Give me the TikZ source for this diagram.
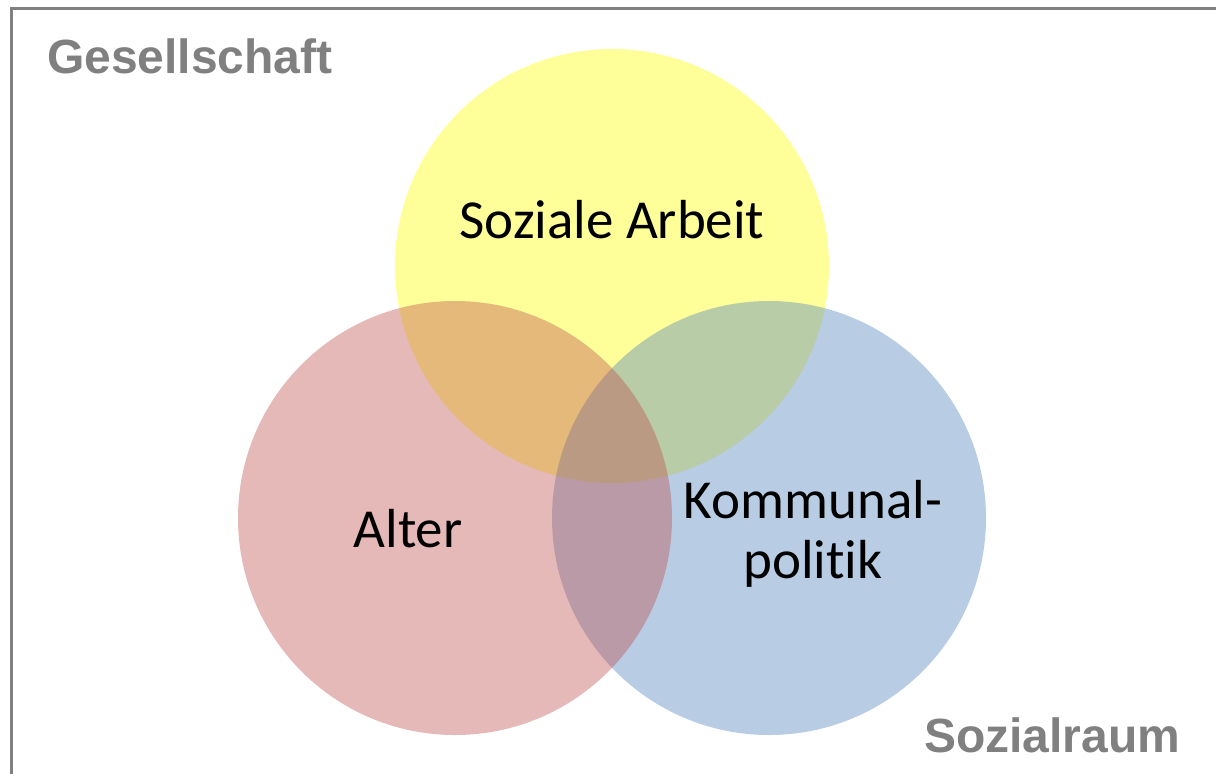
\documentclass[tikz,border=0pt]{standalone}
\usepackage{fontspec}
\setmainfont{Carlito}[Ligatures={NoCommon}]
\newfontfamily\labelfont{Liberation Sans}
\definecolor{offyellow}{HTML}{FFFF00}
\definecolor{offred}{HTML}{C0504D}
\definecolor{offblue}{HTML}{4F81BD}
\definecolor{framegray}{HTML}{808080}
\tikzset{
  setcircle/.style={circle, inner sep=0pt, minimum size=434pt, fill opacity=0.4, draw=none},
  setlabel/.style={inner sep=0pt, font=\fontsize{55}{60}\selectfont, text=black, anchor=base},
  arealabel/.style={inner sep=0pt, font=\labelfont\bfseries\fontsize{48}{50}\selectfont, text=framegray, anchor=base west}
}
\begin{document}
\begin{tikzpicture}[x=1pt,y=-1pt]
\useasboundingbox (0,0) rectangle (1216,774);
\fill[white] (0,0) rectangle (1216,774);
\begin{scope}
\clip (0,0) rectangle (1216,774);
\draw[framegray, line width=3pt] (11,8) rectangle (1240,800);
\end{scope}
\node[setcircle, fill=offyellow] (ya) at (612,266) {};
\node[setcircle, fill=offblue] (kp) at (769,518) {};
\node[setcircle, fill=offred] (al) at (455,518) {};
\node[setlabel] (tya) at (612,238) {Soziale Arbeit};
\node[setlabel] (tal) at (408,547) {Alter};
\node[setlabel, align=center] (tkp) at (813,578) {Kommunal-\\politik};
\node[arealabel] (ges) at (47,73) {Gesellschaft};
\node[arealabel] (soz) at (924,752) {Sozialraum};
\end{tikzpicture}
\end{document}
